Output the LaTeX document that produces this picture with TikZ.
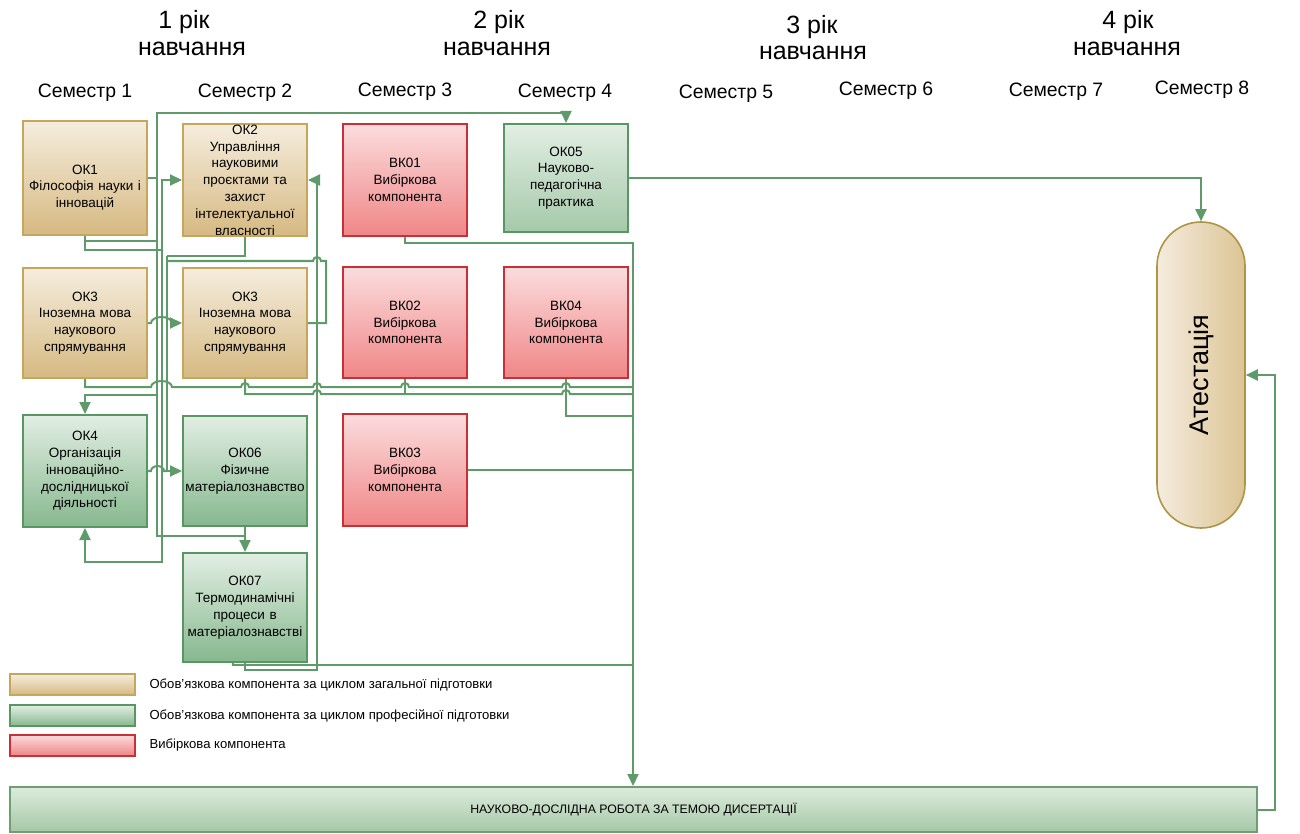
\documentclass[tikz,border=0pt]{standalone}
\usepackage{fontspec}
\setmainfont{Liberation Sans}
\usetikzlibrary{arrows.meta,calc}

\definecolor{linkgreen}{RGB}{94,154,106}
\definecolor{tanline}{RGB}{196,166,92}
\definecolor{tantop}{RGB}{245,237,221}
\definecolor{tanbot}{RGB}{214,185,130}
\definecolor{grnline}{RGB}{88,150,100}
\definecolor{grntop}{RGB}{226,238,227}
\definecolor{grnbot}{RGB}{134,184,142}
\definecolor{redline}{RGB}{200,48,56}
\definecolor{redtop}{RGB}{251,220,221}
\definecolor{redbot}{RGB}{240,134,135}

\tikzset{
  box/.style={draw, line width=2pt, minimum width=124pt, text width=122pt,
    align=center, inner sep=0pt, font=\fontsize{13.5}{16.8}\selectfont},
  gen/.style={box, draw=tanline, top color=tantop, bottom color=tanbot},
  prof/.style={box, draw=grnline, top color=grntop, bottom color=grnbot},
  elect/.style={box, draw=redline, top color=redtop, bottom color=redbot},
  yr/.style={font=\fontsize{25}{29}\selectfont},
  sem/.style={font=\fontsize{19.4}{23}\selectfont},
  legtext/.style={anchor=west, font=\fontsize{13.1}{15}\selectfont},
  link/.style={draw=linkgreen, line width=2pt},
}

\begin{document}
\begin{tikzpicture}[x=1pt, y=-1pt, >={Triangle[length=12pt,width=11pt]}]
  \path[use as bounding box, fill=white] (0,0) rectangle (1300,834);

  % years and semesters
  \node[yr] (y1a) at (184,22) {1 рік};
  \node[yr] (y1b) at (192,49) {навчання};
  \node[yr] (y2a) at (499,22) {2 рік};
  \node[yr] (y2b) at (497,49) {навчання};
  \node[yr] (y3a) at (812,27) {3 рік};
  \node[yr] (y3b) at (813,53) {навчання};
  \node[yr] (y4a) at (1128,22) {4 рік};
  \node[yr] (y4b) at (1127,49) {навчання};

  \node[sem] (s1) at (85,93) {Семестр 1};
  \node[sem] (s2) at (245,93) {Семестр 2};
  \node[sem] (s3) at (405,92) {Семестр 3};
  \node[sem] (s4) at (565,93) {Семестр 4};
  \node[sem] (s5) at (726,94) {Семестр 5};
  \node[sem] (s6) at (886,91) {Семестр 6};
  \node[sem] (s7) at (1056,92) {Семестр 7};
  \node[sem] (s8) at (1202,90) {Семестр 8};

  % components
  \node[gen, minimum height=114pt] (ok1) at (85,178) {\strut\\ОК1\\Філософія науки і\\інновацій};
  \node[gen, minimum height=112pt] (ok2) at (245,180) {ОК2\\Управління\\науковими\\проєктами та\\захист\\інтелектуальної\\власності};
  \node[gen, minimum height=110pt] (ok3a) at (85,323) {ОК3\\Іноземна мова\\наукового\\спрямування};
  \node[gen, minimum height=110pt] (ok3b) at (245,323) {ОК3\\Іноземна мова\\наукового\\спрямування};
  \node[prof, minimum height=112pt] (ok4) at (85,471) {ОК4\\Організація\\інноваційно-\\дослідницької\\діяльності};
  \node[prof, minimum height=110pt] (ok06) at (245,471) {ОК06\\Фізичне\\матеріалознавство};
  \node[prof, minimum height=109pt] (ok07) at (245,607.5) {ОК07\\Термодинамічні\\процеси в\\матеріалознавстві};
  \node[elect, minimum height=112pt] (vk01) at (405,180) {ВК01\\Вибіркова\\компонента};
  \node[prof, minimum height=108pt, bottom color={rgb,255:red,165;green,201;blue,170}] (ok05) at (566,178) {ОК05\\Науково-\\педагогічна\\практика};
  \node[elect, minimum height=111pt] (vk02) at (405,322.5) {ВК02\\Вибіркова\\компонента};
  \node[elect, minimum height=111pt] (vk04) at (566,322.5) {ВК04\\Вибіркова\\компонента};
  \node[elect, minimum height=112pt] (vk03) at (405,470) {ВК03\\Вибіркова\\компонента};

  \node[draw={rgb,255:red,173;green,149;blue,69}, line width=1.6pt,
        left color={rgb,255:red,245;green,236;blue,222}, right color={rgb,255:red,220;green,196;blue,148},
        minimum width=88pt, minimum height=306pt, rounded corners=44pt, inner sep=0pt]
        (att) at (1201,375) {\rotatebox{90}{\fontsize{27}{30}\selectfont Атестація}};
  \node[draw={rgb,255:red,110;green,158;blue,114}, line width=2pt,
        top color={rgb,255:red,221;green,235;blue,221}, bottom color={rgb,255:red,165;green,200;blue,166},
        minimum width=1247pt, minimum height=45pt, inner sep=0pt, font=\fontsize{12.3}{14}\selectfont]
        (ndr) at (633.5,809.5) {НАУКОВО-ДОСЛІДНА РОБОТА ЗА ТЕМОЮ ДИСЕРТАЦІЇ};

  % legend
  \node[draw=tanline, line width=2pt, top color=tantop, bottom color=tanbot, minimum width=125pt, minimum height=21pt] (lg1) at (72.5,684.5) {};
  \node[draw=grnline, line width=2pt, top color=grntop, bottom color=grnbot, minimum width=125pt, minimum height=21pt] (lg2) at (72.5,715.5) {};
  \node[draw=redline, line width=2pt, top color=redtop, bottom color=redbot, minimum width=125pt, minimum height=21pt] (lg3) at (72.5,745) {};
  \node[legtext] (lt1) at (146,685) {Обов’язкова компонента за циклом загальної підготовки};
  \node[legtext] (lt2) at (146,716) {Обов’язкова компонента за циклом професійної підготовки};
  \node[legtext] (lt3) at (146,745) {Вибіркова компонента};

  % bus points
  \coordinate (b1) at (157,241);
  \coordinate (b2) at (162,250);
  \coordinate (b3) at (167,256);
  \coordinate (col) at (633,243);

  % connectors
  \draw[link,->] (ok1.south) |- (b1) -- (157,113) -| (ok05.north);
  \draw[link] (ok1.east) -| (b1);
  \draw[link,->] (ok1.south) |- (b2) |- (ok2.west);
  \draw[link,->] (b2) |- ($(ok4.south)+(0,34)$) -- (ok4.south);
  \draw[link,->] (b1) |- ($(ok4.north)+(0,-19)$) -- (ok4.north);
  \draw[link] (b1) |- ($(ok06.south)+(0,9)$);
  \draw[link,->] (ok06.south) -- (ok07.north);
  \draw[link] (ok2.south) |- (b3);
  \draw[link,->] (b3) |- (ok06.west);
  \draw[link] (ok3b.east) -- (326,323) -- (326,261) -- (321,261) arc (360:180:4) -- (167,261);
  \draw[link,->] (ok3a.east) -- (151,323) arc (180:360:10.5 and 6) -- (ok3b.west);
  \draw[link] (ok4.east) -- (151,471) arc (180:360:6.5 and 5) -- (b3 |- ok06.west);
  \draw[link] (ok3a.south) |- (151,387) arc (180:360:10.5 and 6) -- (241,387) arc (180:360:4)
    -- (313,387) arc (180:360:4) -- (401,387) arc (180:360:4) -- (562,387) arc (180:360:4) -- (633,387);
  \draw[link] (ok3b.south) |- (313,394) arc (180:360:4) -- (562,394) arc (180:360:4) -- (633,394);
  \draw[link] (vk02.south) -- (405,394);
  \draw[link] (vk04.south) |- (633,416);
  \draw[link,->] (vk01.south) |- (col) -- (col |- ndr.north);
  \draw[link] (vk03.east) -- (633,470);
  \draw[link] ([xshift=-12pt]ok07.south) |- (633,665);
  \draw[link,->] (ok07.south) |- (317,670) |- (ok2.east);
  \draw[link,->] (ok05.east) -| (att.north);
  \draw[link,->] (ndr.east) -- (1275,809.5) |- (att.east);
\end{tikzpicture}
\end{document}
